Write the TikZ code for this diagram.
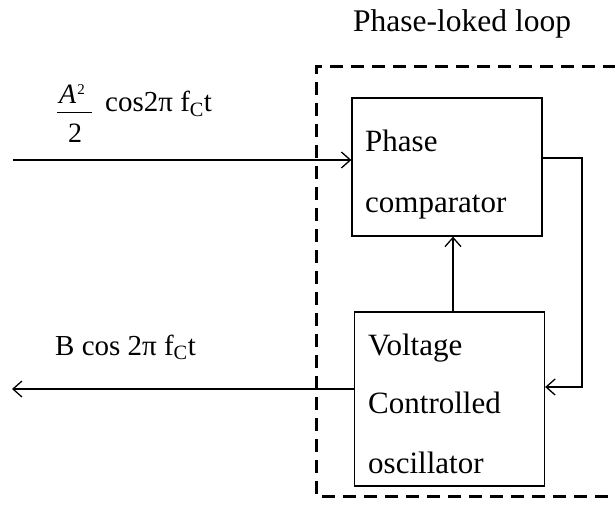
\documentclass[tikz,border=0pt]{standalone}
\usepackage{fontspec}
\setmainfont{Liberation Serif}
\usetikzlibrary{arrows.meta}
\begin{document}
\begin{tikzpicture}[x=1pt,y=-1pt,
  blockbox/.style={draw,line width=1.3pt,minimum width=190pt,inner sep=0pt},
  boxtext/.style={anchor=base west,inner sep=0pt,font=\fontsize{31}{31}\selectfont},
  lbl/.style={anchor=base west,inner sep=0pt,font=\fontsize{29}{29}\selectfont},
  fractext/.style={anchor=base west,inner sep=0pt,font=\fontsize{28}{28}\selectfont},
  wire/.style={line width=1.3pt},
  arr/.style={wire,-{Straight Barb[length=9pt,width=16pt,line width=1.3pt]}},
  loopline/.style={line width=3pt,dash pattern=on 13pt off 8pt}]
\useasboundingbox (0,0) rectangle (615,505);
% blocks
\node[blockbox,minimum height=138pt] (pc) at (447,167) {};
\node[blockbox,minimum height=174pt] (vco) at (449.5,399) {};
% block texts
\node[boxtext] (t1) at (365,152) {Phase};
\node[boxtext] (t2) at (365,212) {comparator};
\node[boxtext] (t3) at (368,355) {Voltage};
\node[boxtext] (t4) at (368,413) {Controlled};
\node[boxtext] (t5) at (368,473) {oscillator};
% title
\node[lbl,font=\fontsize{31.5}{31.5}\selectfont] (title) at (353,32) {Phase-loked loop};
% dashed loop box
\coordinate (d1) at (616,67);
\coordinate (d2) at (316,67);
\coordinate (d3) at (316,496);
\coordinate (d4) at (616,496);
\draw[loopline] (d1) -- (d2) -- (d3) -- (d4);
% input
\coordinate (in) at (13,160);
\draw[arr] (in) -- (in -| pc.west);
\node[fractext] (num) at (59,104) {\itshape A\hspace{1pt}\raisebox{9pt}{\fontsize{15}{15}\selectfont\upshape 2}};
\node[fractext] (den) at (68,143) {2};
\coordinate (b1) at (57,112.5);
\coordinate (b2) at (92,112.5);
\draw[line width=1.6pt] (b1) -- (b2);
\node[lbl] (inlbl) at (105,112) {cos2π f\textsubscript{C}t};
% output
\coordinate (out) at (12,389);
\draw[arr] (vco.west |- out) -- (out);
\node[lbl] (outlbl) at (55,355) {B cos 2π f\textsubscript{C}t};
% feedback
\coordinate (fb1) at (582,158);
\coordinate (fb2) at (582,387);
\draw[arr] (pc.east |- fb1) -- (fb1) -- (fb2) -- (vco.east |- fb2);
% vco to pc
\coordinate (vx) at (453,0);
\draw[arr] (vco.north -| vx) -- (pc.south -| vx);
\end{tikzpicture}
\end{document}
